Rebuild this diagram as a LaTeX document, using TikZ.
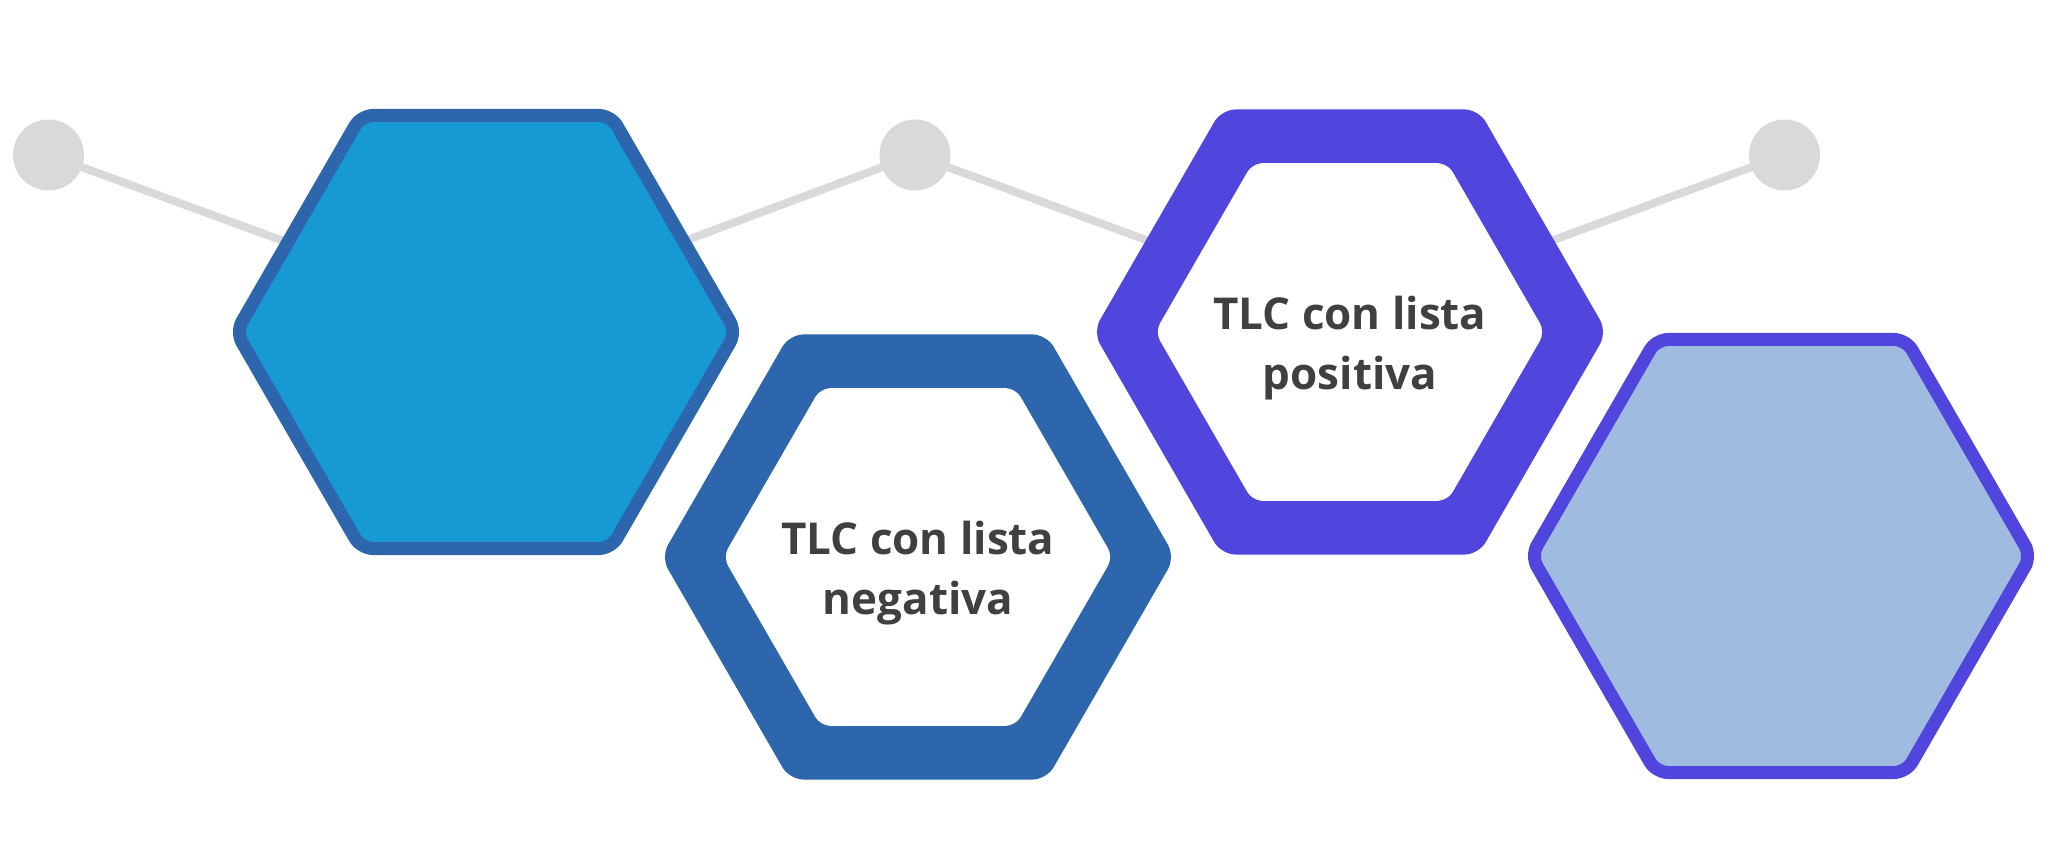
\documentclass[tikz,border=0pt]{standalone}
\usepackage{fontspec}
\setmainfont{Open Sans}
\usepackage{tikz}
\usetikzlibrary{shapes.geometric,backgrounds}

\definecolor{hexcyan}{HTML}{1799D4}
\definecolor{hexblue}{HTML}{2E66AE}
\definecolor{hexviolet}{HTML}{5046DD}
\definecolor{hexpale}{HTML}{A0BBE0}
\definecolor{dotgray}{HTML}{D9D9D9}
\definecolor{txtgray}{HTML}{404040}

\begin{document}
\begin{tikzpicture}
[
    hexa/.style={regular polygon, regular polygon sides=6, inner sep=0pt, outer sep=0pt},
    hexframe/.style={hexa, minimum size=5.0cm, line width=0.13cm, rounded corners=0.12cm},
    hexring/.style={hexa, minimum size=5.14cm, rounded corners=0.14cm},
    hexhole/.style={hexa, minimum size=3.9cm, fill=white, rounded corners=0.1cm},
    hextext/.style={align=center, text=txtgray, inner sep=0pt,
        font=\fontsize{12.5}{17}\selectfont\bfseries},
    dot/.style={circle, fill=dotgray, minimum size=0.71cm, inner sep=0pt},
    link/.style={draw=dotgray, line width=0.08cm}
]
\useasboundingbox (0,0) rectangle (20.66,8.62);
% Hexagons
\node[hexframe, draw=hexblue, fill=hexcyan] (h1) at (4.86,5.30) {};
\node[hexring, fill=hexblue] (h2) at (9.18,3.05) {};
\node[hexhole] (w2) at (h2) {};
\node[hextext] (t2) at ([yshift=-0.16cm]w2.center) {TLC con lista\\negativa};
\node[hexring, fill=hexviolet] (h3) at (13.50,5.30) {};
\node[hexhole] (w3) at (h3) {};
\node[hextext] (t3) at ([yshift=-0.16cm]w3.center) {TLC con lista\\positiva};
\node[hexframe, draw=hexviolet, fill=hexpale] (h4) at (17.81,3.06) {};
% Grey dots
\node[dot] (d1) at (0.485,7.07) {};
\node[dot] (d2) at (9.15,7.07) {};
\node[dot] (d3) at (17.845,7.07) {};
% Connector lines (behind everything)
\begin{pgfonlayer}{background}
\draw[link] (d1.center) -- ([yshift=0.17cm]h1.center) -- (d2.center)
    -- ([yshift=0.17cm]h3.center) -- (d3.center);
\end{pgfonlayer}
\end{tikzpicture}
\end{document}
